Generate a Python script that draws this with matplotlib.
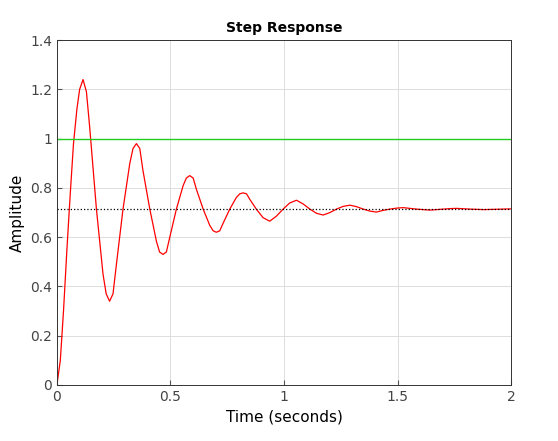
import numpy as np
import matplotlib.pyplot as plt

# Step response values
t = [0, 0.015, 0.029, 0.044, 0.059, 0.073, 0.088, 0.100, 0.115, 0.130,
     0.144, 0.174, 0.203, 0.217, 0.232, 0.247,
     0.262, 0.291, 0.321, 0.335, 0.350, 0.365, 0.379, 0.409, 0.438,
     0.452, 0.467, 0.482,
     0.497, 0.526, 0.556, 0.570, 0.585, 0.600, 0.614, 0.644, 0.673,
     0.688, 0.702, 0.717,
     0.732, 0.761, 0.790, 0.805, 0.820, 0.835, 0.849, 0.878, 0.908, 0.937,
     0.966, 0.996, 1.025, 1.055, 1.084, 1.114, 1.143, 1.172,
     1.202, 1.231, 1.260, 1.290, 1.319, 1.349, 1.378, 1.407,
     1.437, 1.466, 1.496, 1.525, 1.554, 1.584, 1.613, 1.642,
     1.672, 1.701, 1.730, 1.760, 1.820, 1.880, 2.000]
y = [0, 0.10, 0.30, 0.55, 0.78, 0.98, 1.12, 1.20, 1.24, 1.19,
     1.05, 0.714, 0.45, 0.37, 0.34, 0.37,
     0.49, 0.714, 0.90, 0.96, 0.98, 0.96, 0.87, 0.714, 0.584,
     0.54, 0.53, 0.54,
     0.60, 0.714, 0.81, 0.84, 0.85, 0.84, 0.795, 0.714, 0.648,
     0.626, 0.62, 0.626,
     0.657, 0.714, 0.761, 0.776, 0.78, 0.776, 0.754, 0.714, 0.679, 0.665,
     0.685, 0.714, 0.739, 0.75, 0.735, 0.714, 0.697, 0.69,
     0.700, 0.714, 0.725, 0.730, 0.724, 0.714, 0.706, 0.702,
     0.709, 0.714, 0.718, 0.720, 0.717, 0.714, 0.712, 0.710,
     0.712, 0.714, 0.716, 0.717, 0.714, 0.712, 0.715]
setpoint = 1.0
final_value = 0.714

fig = plt.figure(figsize=(5.58, 4.41), dpi=100)
ax = fig.add_axes([0.102, 0.127, 0.814, 0.782])

ax.plot(t, y, color='red', lw=0.9)
ax.axhline(setpoint, color='#22cc22', lw=1.0)
ax.axhline(final_value, color='black', lw=0.9, ls=':')

ax.set_xlim(0, 2)
ax.set_ylim(0, 1.4)
ax.set_xticks([0, 0.5, 1, 1.5, 2])
ax.set_xticklabels(['0', '0.5', '1', '1.5', '2'])
ax.set_yticks(np.arange(0, 1.41, 0.2))
ax.set_yticklabels(['0', '0.2', '0.4', '0.6', '0.8', '1', '1.2', '1.4'])
ax.grid(True, color='#dddddd', lw=0.7)
ax.tick_params(direction='in', colors='#555555', labelsize=10, labelcolor='#444444')
for s in ax.spines.values():
    s.set_color('#333333')
    s.set_linewidth(0.7)

ax.set_title('Step Response', fontsize=10, fontweight='bold')
ax.set_xlabel('Time (seconds)', fontsize=11)
ax.set_ylabel('Amplitude', fontsize=11)

fig.savefig('out.png', dpi=100)
